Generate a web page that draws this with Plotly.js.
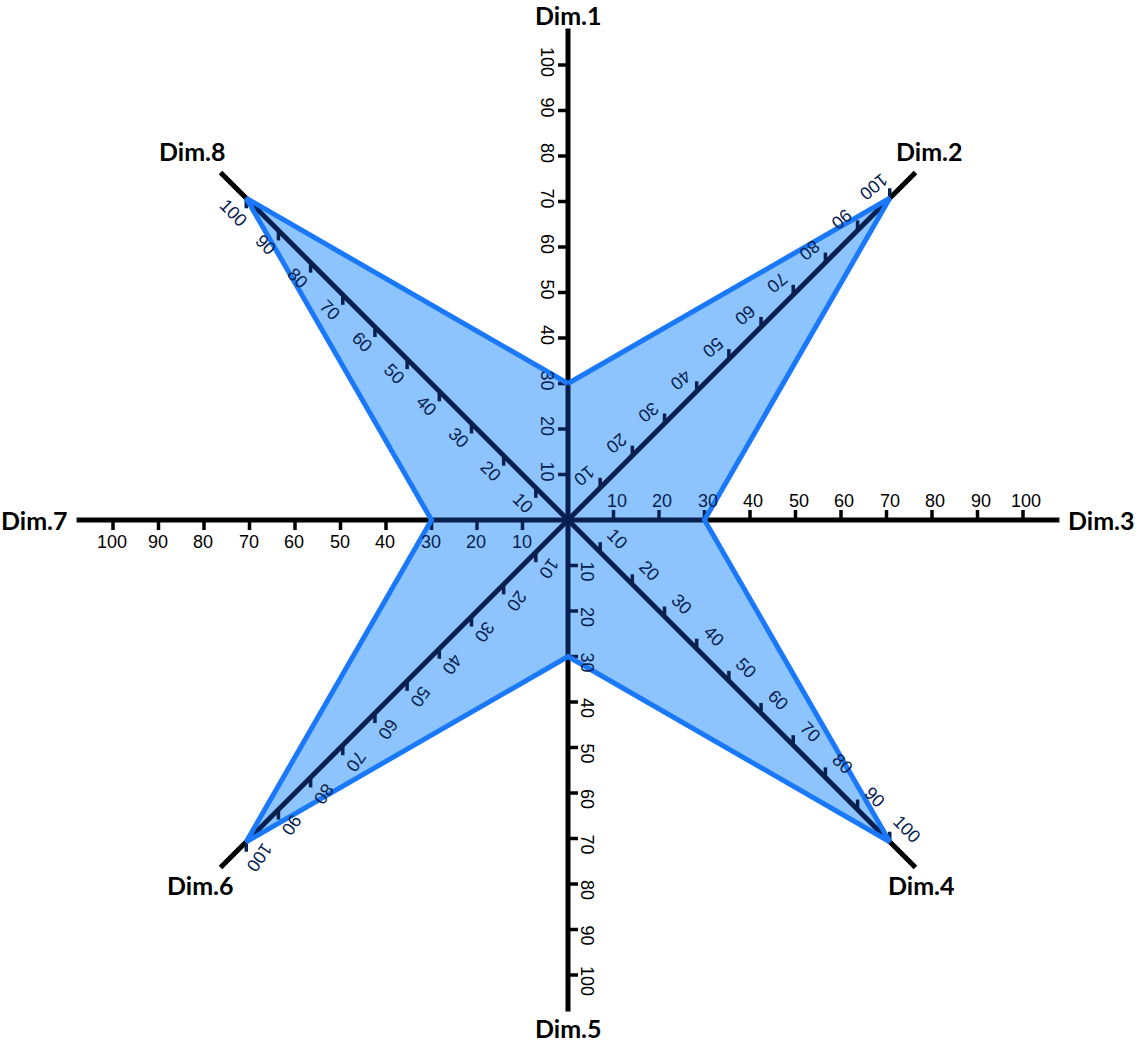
<!DOCTYPE html>
<html>
<head>
<meta charset="utf-8">
<script src="https://cdn.plot.ly/plotly-3.0.1.min.js"></script>
<style>
  body { margin: 0; background: #fff; }
  #chart { width: 1145px; height: 1047px; }
</style>
</head>
<body>
<div id="chart"></div>
<script>
// chart data
var dims = ['Dim.1', 'Dim.2', 'Dim.3', 'Dim.4', 'Dim.5', 'Dim.6', 'Dim.7', 'Dim.8'];
var values = [30, 100, 30, 100, 30, 100, 30, 100];
var tickVals = [10, 20, 30, 40, 50, 60, 70, 80, 90, 100];
var tickText = ['10', '20', '30', '40', '50', '60', '70', '80', '90', '100'];

// look
var axisEnd = 108;
var tickLen = 2.2;
var navy = '#07204f';
var fillColor = '#8ec4fd';
var edgeColor = '#1a78fa';

// tick direction (data units, y up) for every spoke
var tickDir = [[-1, 0], [0, 1], [0, 1], [0, 1], [1, 0], [0, -1], [0, -1], [0, -1]];
// label offset in px (screen: +x right, +y down) and rotation
var labOff = [[-21, -3], [-16, -12], [3, -19], [17, -13], [19, 6], [13, 16], [-1, 22], [-13, 15]];
var labAngle = [90, 140, 0, 45, 90, 125, 0, 45];
// dim name offset from spoke end in px
var nameOff = [[0, -14], [14, -22], [42, 0], [6, 18], [0, 17], [-20, 18], [-42, 0], [-28, -22]];

function dir(i) {
    var a = (90 - 45 * i) * Math.PI / 180;
    return [Math.cos(a), Math.sin(a)];
}

var data = [];
var annotations = [];

// filled star
var px = [], py = [];
for (var i = 0; i < dims.length; i++) {
    var d = dir(i);
    px.push(values[i] * d[0]);
    py.push(values[i] * d[1]);
}
px.push(px[0]); py.push(py[0]);
data.push({type: 'scatter', mode: 'lines', x: px, y: py, fill: 'toself',
           fillcolor: fillColor, line: {width: 0, color: fillColor}, hoverinfo: 'skip'});

for (var i = 0; i < dims.length; i++) {
    var d = dir(i);
    var v = values[i];
    // spoke, inside part and outside part
    data.push({type: 'scatter', mode: 'lines', x: [0, v * d[0]], y: [0, v * d[1]],
               line: {color: navy, width: 5}, hoverinfo: 'skip'});
    data.push({type: 'scatter', mode: 'lines', x: [v * d[0], axisEnd * d[0]], y: [v * d[1], axisEnd * d[1]],
               line: {color: 'black', width: 5}, hoverinfo: 'skip'});

    var inX = [], inY = [], outX = [], outY = [];
    for (var k = 0; k < tickVals.length; k++) {
        var t = tickVals[k];
        var x0 = t * d[0], y0 = t * d[1];
        var x1 = x0 + tickLen * tickDir[i][0], y1 = y0 + tickLen * tickDir[i][1];
        var inside = t <= v;
        if (inside) { inX.push(x0, x1, null); inY.push(y0, y1, null); }
        else { outX.push(x0, x1, null); outY.push(y0, y1, null); }
        annotations.push({
            x: x0, y: y0, xref: 'x', yref: 'y', showarrow: false,
            text: tickText[k], textangle: labAngle[i],
            xshift: labOff[i][0], yshift: -labOff[i][1],
            font: {family: 'Liberation Sans, Arial, sans-serif', size: 18, color: inside ? navy : 'black'}
        });
    }
    data.push({type: 'scatter', mode: 'lines', x: inX, y: inY, line: {color: navy, width: 3.5}, hoverinfo: 'skip'});
    data.push({type: 'scatter', mode: 'lines', x: outX, y: outY, line: {color: 'black', width: 3.5}, hoverinfo: 'skip'});

    annotations.push({
        x: axisEnd * d[0], y: axisEnd * d[1], xref: 'x', yref: 'y', showarrow: false,
        text: '<b>' + dims[i] + '</b>',
        xshift: nameOff[i][0], yshift: -nameOff[i][1],
        font: {family: 'Lato, Open Sans, sans-serif', size: 25, color: 'black'}
    });
}

// star outline on top
data.push({type: 'scatter', mode: 'lines', x: px, y: py,
           line: {color: edgeColor, width: 5, shape: 'linear'}, hoverinfo: 'skip'});

// 4.55 px per unit, centre at (568, 520)
var s = 4.55;
var layout = {
    width: 1145, height: 1047,
    margin: {l: 0, r: 0, t: 0, b: 0},
    showlegend: false,
    paper_bgcolor: 'white', plot_bgcolor: 'white',
    xaxis: {range: [-568 / s, (1145 - 568) / s], visible: false, fixedrange: true},
    yaxis: {range: [-(1047 - 520) / s, 520 / s], visible: false, fixedrange: true},
    annotations: annotations
};

Plotly.newPlot('chart', data, layout, {displayModeBar: false, staticPlot: true});
</script>
</body>
</html>
